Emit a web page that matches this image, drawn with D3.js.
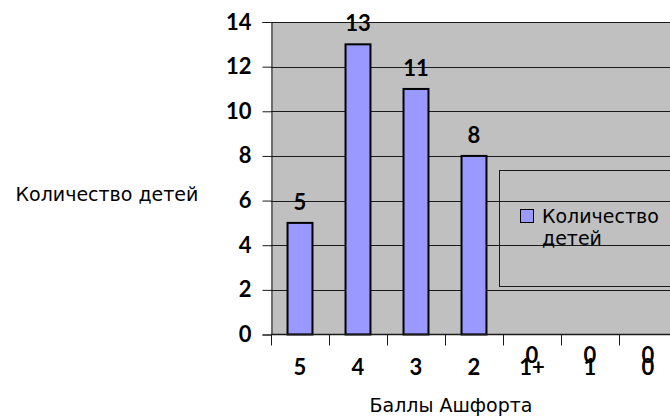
<!DOCTYPE html>
<html>
<head>
<meta charset="utf-8">
<script src="https://cdn.jsdelivr.net/npm/d3@7"></script>
<style>
  html, body { margin: 0; padding: 0; background: #fff; }
  svg { display: block; }
  .num { font-family: Lato, sans-serif; font-weight: bold; font-size: 22px; fill: #000; }
  .lbl { font-family: "DejaVu Sans", sans-serif; font-size: 19px; fill: #000; }
</style>
</head>
<body>
<svg id="chart" width="670" height="417"></svg>
<script>
// Ashford scores and number of children per score
const categories = ["5", "4", "3", "2", "1+", "1", "0"];
const counts = [5, 13, 11, 8, 0, 0, 0];
const yTicks = [0, 2, 4, 6, 8, 10, 12, 14];
const seriesName = "Количество детей";
const xTitle = "Баллы Ашфорта";
const yTitle = "Количество детей";

const svg = d3.select("#chart");
const plot = { left: 271, top: 22, right: 677, bottom: 334.5 };

const x = d3.scaleBand().domain(categories).range([plot.left, plot.right]).paddingInner(0).paddingOuter(0);
const y = d3.scaleLinear().domain([0, 14]).range([plot.bottom, plot.top]);
const barW = x.bandwidth() * 0.43;

// plot background
svg.append("rect")
  .attr("x", plot.left).attr("y", plot.top)
  .attr("width", plot.right - plot.left).attr("height", plot.bottom - plot.top)
  .attr("fill", "#c0c0c0");

// horizontal gridlines
svg.append("g").selectAll("line").data(yTicks.slice(1)).join("line")
  .attr("x1", plot.left).attr("x2", plot.right)
  .attr("y1", d => Math.round(y(d)) + 0.5).attr("y2", d => Math.round(y(d)) + 0.5)
  .attr("stroke", "#1a1a1a").attr("stroke-width", 1);

// legend frame (transparent, gridlines show through)
const legend = svg.append("g");
legend.append("rect")
  .attr("x", 499.5).attr("y", 170.5).attr("width", 190).attr("height", 116)
  .attr("fill", "none").attr("stroke", "#1a1a1a").attr("stroke-width", 1);
legend.append("rect")
  .attr("x", 520.5).attr("y", 209.5).attr("width", 13).attr("height", 13)
  .attr("fill", "#9999ff").attr("stroke", "#000").attr("stroke-width", 1);
const seriesWords = seriesName.split(" ");
legend.selectAll("text.lbl").data(seriesWords).join("text")
  .attr("class", "lbl")
  .attr("x", 542).attr("y", (d, i) => 223 + i * 22)
  .text(d => d);

// bars
svg.append("g").selectAll("rect").data(categories).join("rect")
  .attr("x", (d) => x(d) + (x.bandwidth() - barW) / 2)
  .attr("y", (d, i) => y(counts[i]))
  .attr("width", barW)
  .attr("height", (d, i) => y(0) - y(counts[i]))
  .attr("fill", "#9999ff")
  .attr("stroke", "#000").attr("stroke-width", 2);

// y axis
const yAxis = d3.axisLeft(y).tickValues(yTicks).tickSize(9).tickPadding(11).tickFormat(d3.format("d"));
const gy = svg.append("g").attr("transform", `translate(${plot.left + 0.5},0)`).call(yAxis);
gy.select(".domain").attr("stroke", "#1a1a1a");
gy.selectAll(".tick line").attr("stroke", "#1a1a1a");
gy.selectAll(".tick text").attr("class", "num").attr("fill", null);

// x axis line and tick marks at category boundaries
svg.append("line")
  .attr("x1", plot.left).attr("x2", plot.right)
  .attr("y1", plot.bottom).attr("y2", plot.bottom)
  .attr("stroke", "#1a1a1a").attr("stroke-width", 1.5);
svg.append("g").selectAll("line").data(categories).join("line")
  .attr("x1", d => Math.round(x(d)) + 0.5).attr("x2", d => Math.round(x(d)) + 0.5)
  .attr("y1", plot.bottom).attr("y2", plot.bottom + 11)
  .attr("stroke", "#1a1a1a").attr("stroke-width", 1);

// x category labels
svg.append("g").selectAll("text").data(categories).join("text")
  .attr("class", "num")
  .attr("x", d => x(d) + x.bandwidth() / 2)
  .attr("y", 375)
  .attr("text-anchor", "middle")
  .text(d => d);

// value labels above bars (zero values fall below the axis line)
svg.append("g").selectAll("text").data(categories).join("text")
  .attr("class", "num")
  .attr("x", d => x(d) + x.bandwidth() / 2)
  .attr("y", (d, i) => counts[i] > 0 ? y(counts[i]) - 13 : y(0) + 28)
  .attr("text-anchor", "middle")
  .text((d, i) => counts[i]);

// axis titles
svg.append("text")
  .attr("class", "lbl")
  .attr("x", 107).attr("y", 201)
  .attr("text-anchor", "middle")
  .text(yTitle);
svg.append("text")
  .attr("class", "lbl")
  .attr("x", 451).attr("y", 412)
  .attr("text-anchor", "middle")
  .text(xTitle);
</script>
</body>
</html>
